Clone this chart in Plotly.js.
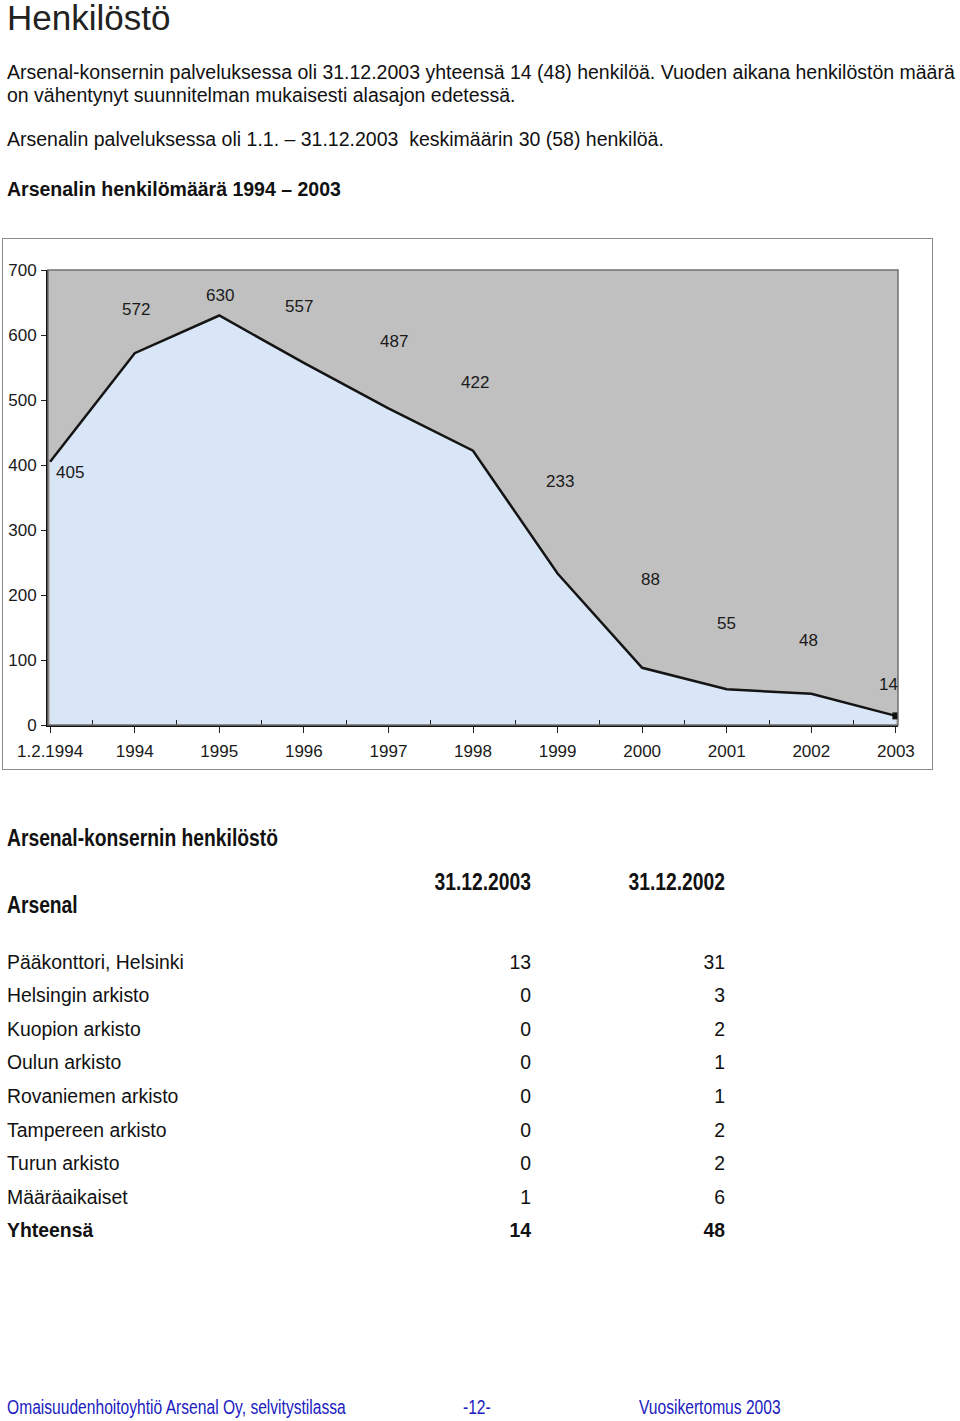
<!DOCTYPE html>
<html>
<head>
<meta charset="utf-8">
<script src="https://cdn.plot.ly/plotly-3.0.1.min.js"></script>
<style>
  body { margin: 0; width: 960px; height: 1421px; position: relative; background: #fff;
         font-family: "Liberation Sans", Arial, sans-serif; color: #111; }
  .t { position: absolute; white-space: nowrap; line-height: 1; }
  /* no narrow font installed, so squeeze the regular one */
  .narrow { transform: scaleX(0.82); transform-origin: left center; }
  .narrow.right { transform-origin: right center; }
  #frame { position: absolute; left: 2px; top: 238px; width: 929px; height: 530px; border: 1px solid #8a8a8a; }
  #chart { position: absolute; left: 3px; top: 239px; width: 929px; height: 529px; }
</style>
</head>
<body>

<div class="t" style="left:7px; top:0px; font-size:35px; line-height:35px; color:#222;">Henkilöstö</div>
<div class="t" style="left:7px; top:63px; font-size:19.5px;">Arsenal-konsernin palveluksessa oli 31.12.2003 yhteensä 14 (48) henkilöä. Vuoden aikana henkilöstön määrä</div>
<div class="t" style="left:7px; top:86px; font-size:19.5px;">on vähentynyt suunnitelman mukaisesti alasajon edetessä.</div>
<div class="t" style="left:7px; top:130px; font-size:19.5px;">Arsenalin palveluksessa oli 1.1. – 31.12.2003&nbsp; keskimäärin 30 (58) henkilöä.</div>
<div class="t" style="left:7px; top:180px; font-size:19.5px; font-weight:bold;">Arsenalin henkilömäärä 1994 – 2003</div>

<div id="frame"></div>
<div id="chart"></div>

<div class="t narrow" style="left:7px; top:827px; font-size:23.5px; font-weight:bold;">Arsenal-konsernin henkilöstö</div>
<div class="t narrow" style="left:7px; top:894px; font-size:23.5px; font-weight:bold;">Arsenal</div>
<div id="table"></div>

<div class="t narrow" style="left:7px; top:1398px; font-size:19.5px; color:#2020c0; transform:scaleX(0.8);">Omaisuudenhoitoyhtiö Arsenal Oy, selvitystilassa</div>
<div class="t narrow" style="left:463px; top:1398px; font-size:19.5px; color:#2020c0; transform:scaleX(0.8);">-12-</div>
<div class="t narrow" style="left:639px; top:1398px; font-size:19.5px; color:#2020c0; transform:scaleX(0.8);">Vuosikertomus 2003</div>

<script>
// Chart data
var years = ["1.2.1994", "1994", "1995", "1996", "1997", "1998", "1999", "2000", "2001", "2002", "2003"];
var staff = [405, 572, 630, 557, 487, 422, 233, 88, 55, 48, 14];

// Table data
var col_heads = ["31.12.2003", "31.12.2002"];
var units = ["Pääkonttori, Helsinki", "Helsingin arkisto", "Kuopion arkisto", "Oulun arkisto",
             "Rovaniemen arkisto", "Tampereen arkisto", "Turun arkisto", "Määräaikaiset", "Yhteensä"];
var staff_2003 = [13, 0, 0, 0, 0, 0, 0, 1, 14];
var staff_2002 = [31, 3, 2, 1, 1, 2, 2, 6, 48];

// label nudges (px) so the value labels sit like in the original
var label_dx = [20, 1, 1, -5, 6, 2, 2, 8, 0, -3, -7];
var label_dy = [-11, 44, 20, 56, 67, 68, 92, 88, 66, 53, 31];

var idx = years.map(function (y, i) { return i; });
var last = idx.length - 1;

var area = {
  x: idx, y: staff, mode: "lines", fill: "tozeroy",
  fillcolor: "#d9e6f8", line: {color: "#141414", width: 2.5},
  hoverinfo: "skip", showlegend: false
};
var endMark = {
  x: [idx[last]], y: [staff[last]], mode: "markers",
  marker: {symbol: "square", size: 7, color: "#111"},
  hoverinfo: "skip", showlegend: false
};

var labels = staff.map(function (v, i) {
  return {x: idx[i], y: v, text: String(v), showarrow: false,
          xshift: label_dx[i], yshift: label_dy[i],
          font: {size: 17, color: "#1a1a1a"}};
});

var layout = {
  width: 929, height: 529,
  margin: {l: 45, r: 34, t: 31, b: 43},
  paper_bgcolor: "#ffffff", plot_bgcolor: "#c0c0c0",
  font: {family: "Liberation Sans, Arial, sans-serif", size: 17, color: "#1a1a1a"},
  xaxis: {
    range: [-0.025, last + 0.025], tickvals: idx, ticktext: years,
    ticks: "outside", ticklen: 6, tickcolor: "#222", tickwidth: 1,
    minor: {tick0: 0.5, dtick: 1, ticks: "inside", ticklen: 5, tickcolor: "#222"},
    showline: true, linecolor: "#111", linewidth: 2, showgrid: false, zeroline: false,
    ticklabelstandoff: 4, fixedrange: true
  },
  yaxis: {
    range: [0, 700], dtick: 100, ticks: "outside", ticklen: 5, tickcolor: "#222",
    showline: true, linecolor: "#111", linewidth: 2, showgrid: false, zeroline: false,
    ticklabelstandoff: 1, fixedrange: true
  },
  shapes: [{type: "rect", xref: "paper", yref: "paper", x0: 0, x1: 1, y0: 0, y1: 1,
            line: {color: "#707070", width: 1.5}, layer: "above"}],
  annotations: labels
};

Plotly.newPlot("chart", [area, endMark], layout, {staticPlot: true});

// Build the table below the chart
var tbl = document.getElementById("table");
var html = "";
var colRight = [531, 725];
col_heads.forEach(function (h, c) {
  html += '<div class="t narrow right" style="left:' + (colRight[c] - 200) + 'px; width:200px; text-align:right; top:871px; font-size:23.5px; font-weight:bold;">' + h + '</div>';
});
units.forEach(function (u, i) {
  var top = 952.5 + i * 33.6;
  var bold = (i === units.length - 1) ? "font-weight:bold;" : "";
  html += '<div class="t" style="left:7px; top:' + top + 'px; font-size:19.4px;' + bold + '">' + u + '</div>';
  [staff_2003[i], staff_2002[i]].forEach(function (v, c) {
    html += '<div class="t" style="left:' + (colRight[c] - 100) + 'px; width:100px; text-align:right; top:' + top + 'px; font-size:19.4px;' + bold + '">' + v + '</div>';
  });
});
tbl.innerHTML = html;
</script>
</body>
</html>
